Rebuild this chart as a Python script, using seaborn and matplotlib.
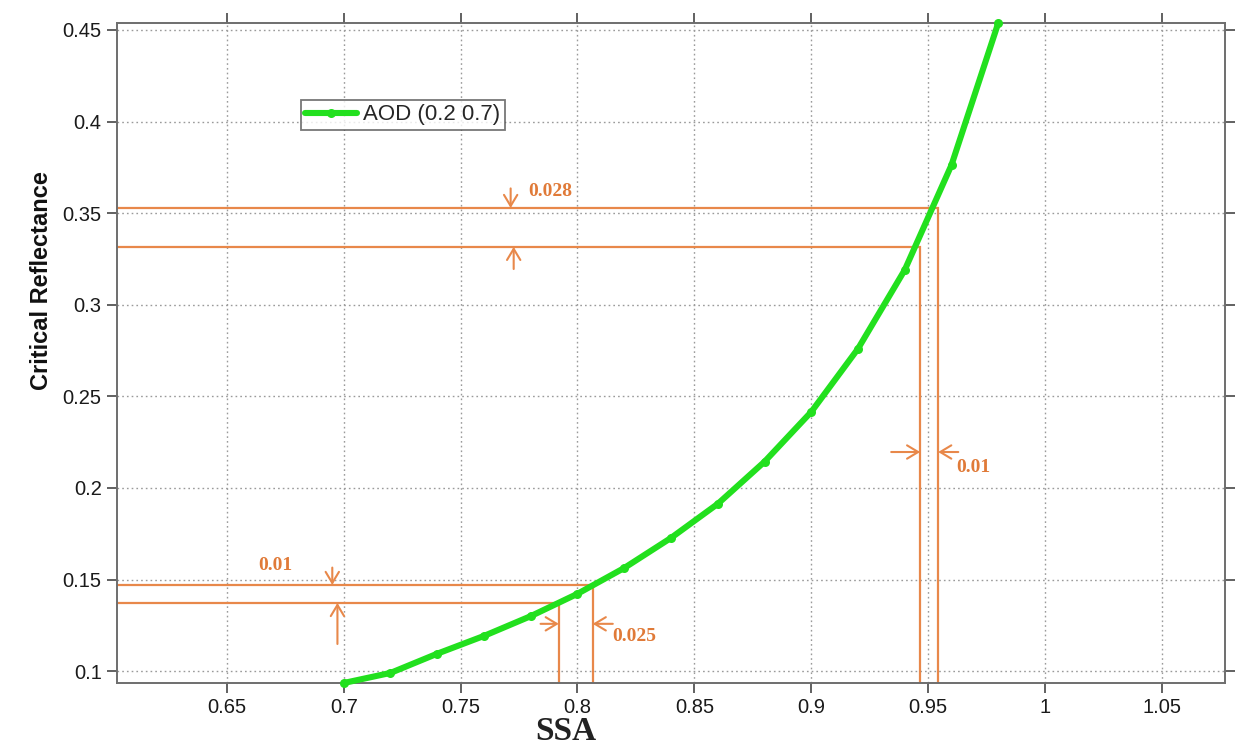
import numpy as np
import pandas as pd
import matplotlib
matplotlib.use("Agg")
import matplotlib.pyplot as plt
import seaborn as sns
from matplotlib.ticker import FuncFormatter

# ---- data ----
ssa = [0.70, 0.72, 0.74, 0.76, 0.78, 0.80, 0.82, 0.84, 0.86, 0.88, 0.90, 0.92, 0.94, 0.96, 0.98]
crit_refl = [0.0935, 0.0990, 0.1095, 0.1192, 0.1300, 0.1422, 0.1563, 0.1727, 0.1913,
             0.2143, 0.2415, 0.2760, 0.3190, 0.3763, 0.4538]
series_label = "AOD (0.2 0.7)"

# orange guide lines (reflectance level, SSA where it meets the curve)
guide_refl = [0.3528, 0.3316, 0.1470, 0.1372]
guide_ssa = [0.9543, 0.9466, 0.8065, 0.7920]

x_ticks = [0.65, 0.7, 0.75, 0.8, 0.85, 0.9, 0.95, 1.0, 1.05]
y_ticks = [0.1, 0.15, 0.2, 0.25, 0.3, 0.35, 0.4, 0.45]
xlim = (0.603, 1.077)
ylim = (0.0935, 0.4538)

diff_labels = ["0.028", "0.01", "0.01", "0.025"]

df = pd.DataFrame({"SSA": ssa, "Critical Reflectance": crit_refl, "series": series_label})

sns.set_style("white")
plt.rcParams["font.family"] = ["Liberation Sans", "DejaVu Sans"]

fig = plt.figure(figsize=(12.44, 7.48), dpi=100)
ax = fig.add_axes([117 / 1244, 1 - 683 / 748, (1225 - 117) / 1244, (683 - 23) / 748])

orange = "#E8884A"
text_orange = "#E07A38"

# guide lines
for r, s in zip(guide_refl, guide_ssa):
    ax.plot([xlim[0], s, s], [r, r, ylim[0]], color=orange, lw=1.6, zorder=2, solid_joinstyle="miter")

sns.lineplot(data=df, x="SSA", y="Critical Reflectance", hue="series",
             palette=["#22E01E"], marker="o", markersize=6.5, markeredgewidth=0,
             linewidth=4.4, ax=ax, zorder=3, clip_on=False)

ax.set_xlim(*xlim)
ax.set_ylim(*ylim)
ax.set_xticks(x_ticks)
ax.set_yticks(y_ticks)
fmt = FuncFormatter(lambda v, p: f"{v:g}")
ax.xaxis.set_major_formatter(fmt)
ax.yaxis.set_major_formatter(fmt)

ax.grid(True, linestyle=(0, (1.2, 2.2)), color="#9a9a9a", lw=1.0)
ax.set_axisbelow(True)
for sp in ax.spines.values():
    sp.set_visible(True)
    sp.set_color("#6e6e6e")
    sp.set_linewidth(1.4)
ax.tick_params(axis="both", which="major", direction="out", length=7, width=1.3,
               color="#555555", labelsize=14.5, labelcolor="#1a1a1a",
               top=True, right=True, bottom=True, left=True, pad=4)

ax.set_xlabel("SSA", family=["Liberation Serif", "DejaVu Serif"], fontweight="bold",
              fontsize=24, color="#222222")
ax.xaxis.set_label_coords((566 - 117) / 1108, (683 - 716) / 660)
ax.set_ylabel("Critical Reflectance", fontweight="bold", fontsize=17, color="#111111")
ax.yaxis.set_label_coords((53 - 117) / 1108, (683 - 281) / 660)

leg = ax.legend(loc="upper left", bbox_to_anchor=((301 - 117) / 1108, (683 - 100) / 660),
                borderaxespad=0, frameon=True, fancybox=False, fontsize=16,
                handlelength=2.3, handletextpad=0.3, borderpad=0.2, title=None)
leg.get_frame().set_edgecolor("#555555")
leg.get_frame().set_linewidth(1.3)

# annotation arrows
arrow_kw = dict(arrowstyle="->,head_length=0.5,head_width=0.3", color=orange, lw=1.5,
                shrinkA=0, shrinkB=0, mutation_scale=16)
def arr(x0, y0, x1, y1):
    ax.annotate("", xy=(x1, y1), xytext=(x0, y0), arrowprops=arrow_kw, zorder=4)

arr(0.7714, 0.3635, 0.7714, guide_refl[0])
arr(0.7727, 0.3195, 0.7727, guide_refl[1])
arr(0.9342, 0.2196, guide_ssa[1], 0.2196)
arr(0.9629, 0.2196, guide_ssa[0], 0.2196)
arr(0.6951, 0.1565, 0.6951, guide_refl[2])
arr(0.6973, 0.1148, 0.6973, guide_refl[3])
arr(0.7842, 0.1258, guide_ssa[3], 0.1258)
arr(0.8151, 0.1258, guide_ssa[2], 0.1258)

tkw = dict(family=["Liberation Serif", "DejaVu Serif"], fontweight="bold",
           fontsize=14, color=text_orange, va="center")
ax.text(0.7790, 0.3618, diff_labels[0], ha="left", **tkw)
ax.text(0.9620, 0.2113, diff_labels[1], ha="left", **tkw)
ax.text(0.6707, 0.1575, diff_labels[2], ha="center", **tkw)
ax.text(0.8150, 0.1188, diff_labels[3], ha="left", **tkw)

fig.savefig("out.png", dpi=100, facecolor="white")
